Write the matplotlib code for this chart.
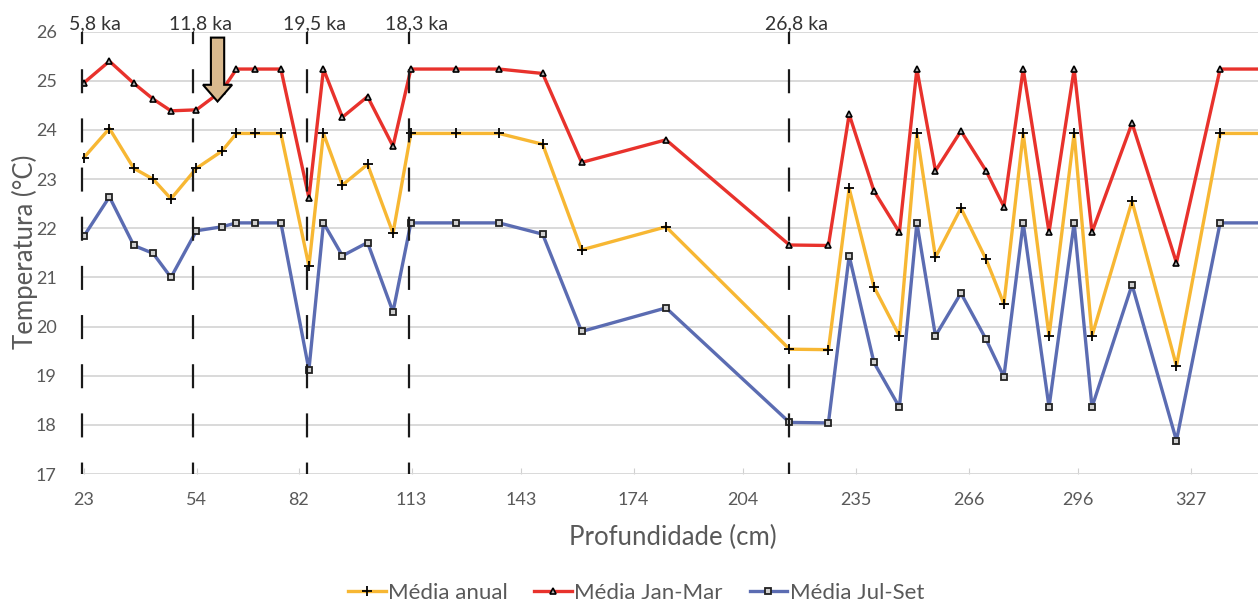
import numpy as np
import matplotlib
matplotlib.use('Agg')
import matplotlib.pyplot as plt
from matplotlib.patches import FancyArrow

plt.rcParams['font.family'] = ['Lato', 'DejaVu Sans']
plt.rcParams['lines.scale_dashes'] = False

# profundidade das amostras (cm)
depth = [23, 30, 36.7, 42, 46.9, 53.9, 60.9, 64.9, 70, 77.1, 84.8, 88.8, 94,
         100.9, 107.9, 112.8, 125.1, 137, 149, 159.7, 182.9, 216.8, 227.5,
         233.2, 240, 247, 251.8, 256.9, 263.9, 270.8, 275.7, 281, 288.1, 295,
         299.9, 310.9, 323.1, 335.1, 350]

anual = [23.44, 24.03, 23.22, 23.00, 22.60, 23.22, 23.57, 23.93, 23.93, 23.93,
         21.23, 23.93, 22.88, 23.30, 21.90, 23.93, 23.93, 23.93, 23.71, 21.56,
         22.03, 19.54, 19.53, 22.81, 20.81, 19.81, 23.93, 21.41, 22.41, 21.37,
         20.46, 23.93, 19.81, 23.93, 19.81, 22.55, 19.20, 23.93, 23.93]

jan_mar = [24.96, 25.40, 24.95, 24.63, 24.39, 24.41, 24.80, 25.24, 25.24, 25.24,
           22.62, 25.24, 24.26, 24.68, 23.67, 25.24, 25.24, 25.24, 25.15, 23.34,
           23.80, 21.66, 21.65, 24.32, 22.76, 21.92, 25.24, 23.17, 23.98, 23.17,
           22.44, 25.24, 21.92, 25.24, 21.92, 24.14, 21.30, 25.24, 25.24]

jul_set = [21.84, 22.64, 21.65, 21.49, 21.00, 21.95, 22.03, 22.11, 22.11, 22.11,
           19.12, 22.11, 21.44, 21.71, 20.30, 22.11, 22.11, 22.11, 21.88, 19.90,
           20.38, 18.05, 18.04, 21.44, 19.27, 18.36, 22.11, 19.81, 20.68, 19.74,
           18.98, 22.11, 18.36, 22.11, 18.36, 20.85, 17.68, 22.11, 22.11]

# idades (ka) marcadas nas profundidades
ka_depth = [22.4, 53.0, 84.3, 112.4, 216.8]
ka_labels = ['5,8 ka', '11,8 ka', '19,5 ka', '18,3 ka', '26,8 ka']

xticks = [23, 54, 82, 113, 143, 174, 204, 235, 266, 296, 327]
yticks = [17, 18, 19, 20, 21, 22, 23, 24, 25, 26]

grey = '#595959'
c_anual = '#F7B733'
c_jan = '#E8322C'
c_jul = '#5B6CB2'

fig = plt.figure(figsize=(12.58, 6.05), dpi=100)
ax = fig.add_axes([0.0649, 0.2165, 0.9351, 0.7311])

ax.plot(depth, anual, color=c_anual, lw=2.4, marker='+', ms=7, mec='black',
        mew=1.3, label='Média anual', zorder=3)
ax.plot(depth, jan_mar, color=c_jan, lw=2.4, marker='^', ms=5, mfc='#b0b0b0',
        mec='black', mew=1.2, label='Média Jan-Mar', zorder=3)
ax.plot(depth, jul_set, color=c_jul, lw=2.4, marker='s', ms=5, mfc='#d0d0d0',
        mec='#222222', mew=1.3, label='Média Jul-Set', zorder=3)

ax.set_xlim(22.37, 345.5)
ax.set_ylim(17, 26)
ax.set_xticks(xticks)
ax.set_yticks(yticks)
ax.grid(axis='y', color='#d9d9d9', lw=1.4, zorder=0)
ax.set_axisbelow(True)
for s in ax.spines.values():
    s.set_visible(False)
ax.tick_params(axis='y', length=0, pad=18, labelsize=13, labelcolor=grey)
ax.tick_params(axis='x', direction='in', length=4, color='#d0d0d0',
               pad=13, labelsize=13, labelcolor=grey)

# linhas tracejadas das datacoes
renderer = fig.canvas.get_renderer()
for d, lab in zip(ka_depth, ka_labels):
    ax.plot([d, d], [26, 17], color='#1a1a1a', lw=1.6,
            linestyle=(8.6, (17.3, 18.1)), clip_on=False, zorder=4)
    tmp = ax.text(0, 0, lab.split(',')[0], fontsize=14)
    w = tmp.get_window_extent(renderer).width * 72 / fig.dpi
    tmp.remove()
    ax.annotate(lab, xy=(d, 26), xytext=(-w - 1.2, 1.5),
                textcoords='offset points', ha='left', va='baseline',
                fontsize=14, color='#333333', annotation_clip=False)

# seta
ax.add_patch(FancyArrow(59.7, 25.88, 0, -1.30, width=3.65, head_width=8.0,
                        head_length=0.34, length_includes_head=True,
                        fc='#D9B98E', ec='black', lw=1.5, zorder=5))

fig.text(25 / 1258, 1 - 252 / 605, 'Temperatura (°C)', rotation=90,
         ha='center', va='center', fontsize=18.5, color=grey)
fig.text(673 / 1258, 1 - 537 / 605, 'Profundidade (cm)', ha='center',
         va='center', fontsize=18.5, color=grey)

fig.legend(loc='center', bbox_to_anchor=(636 / 1258, 1 - 593 / 605), ncol=3,
           frameon=False, fontsize=16, handlelength=1.7, handletextpad=0.1,
           columnspacing=1.2, labelcolor=grey)

fig.savefig('out.png', dpi=100)
